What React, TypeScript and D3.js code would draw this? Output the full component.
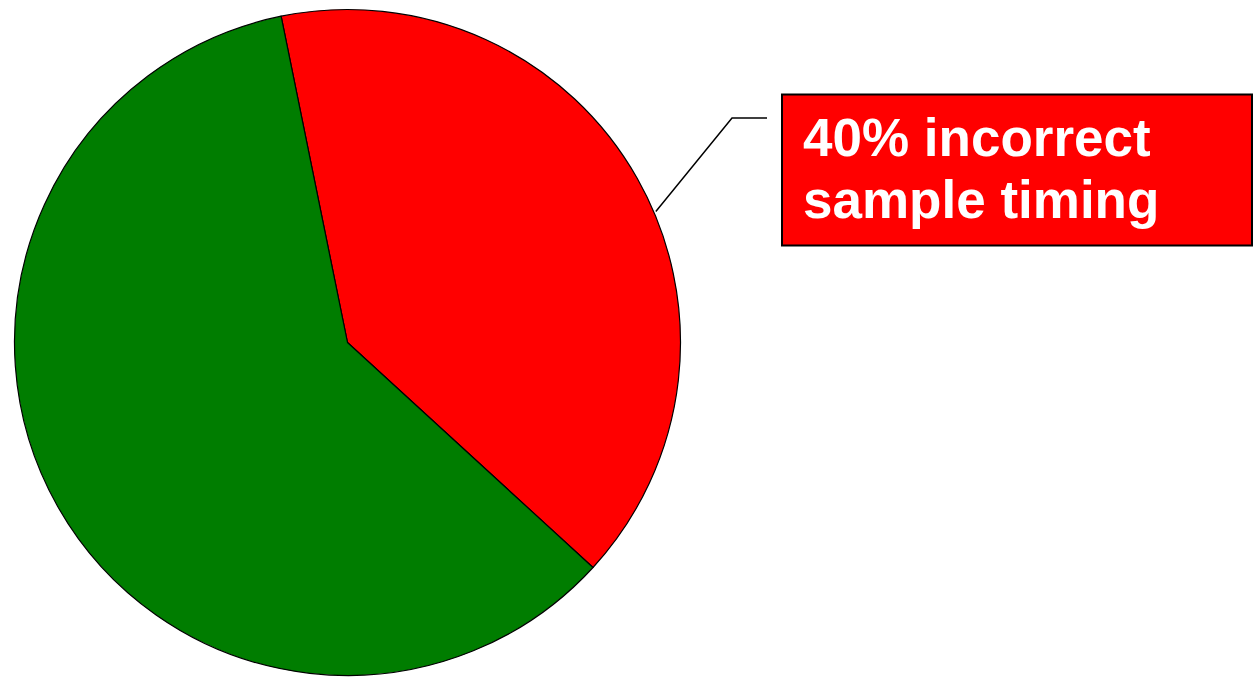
import React from "react";
import * as d3 from "d3";

// Share of samples by timing outcome
const categories = ["incorrect sample timing", "correct sample timing"];
const shares = [40, 60];
const sliceColors = ["#ff0000", "#007d00"];
const calloutLines = ["40% incorrect", "sample timing"];

const W = 1256;
const H = 678;

export default function App() {
  const cx = 347.5;
  const cy = 342.5;
  const r = 333;
  // Rotate the pie so the first slice begins just left of 12 o'clock
  const startDeg = -11.5;
  const start = (startDeg * Math.PI) / 180;

  const pie = d3
    .pie<number>()
    .sort(null)
    .startAngle(start)
    .endAngle(start + 2 * Math.PI);
  const arcs = pie(shares);
  const arc = d3.arc<d3.PieArcDatum<number>>().innerRadius(0).outerRadius(r);

  // Leader line from the red slice's rim toward the callout box
  const a0 = arcs[0];
  const leaderAngle = a0.startAngle + (a0.endAngle - a0.startAngle) * 0.545;
  const rimX = cx + (r + 2) * Math.sin(leaderAngle);
  const rimY = cy - (r + 2) * Math.cos(leaderAngle);
  const elbowX = 732;
  const elbowY = 118;
  const endX = 767;

  const box = { x: 782, y: 94.5, w: 470, h: 151 };

  return (
    <svg
      width={W}
      height={H}
      style={{ position: "absolute", left: 0, top: 0, background: "#fff" }}
    >
      <g transform={`translate(${cx},${cy})`}>
        {arcs.map((d, i) => (
          <path
            key={categories[i]}
            d={arc(d) || ""}
            fill={sliceColors[i]}
            stroke="#000"
            strokeWidth={1.2}
            strokeLinejoin="round"
          />
        ))}
      </g>
      <polyline
        points={`${rimX},${rimY} ${elbowX},${elbowY} ${endX},${elbowY}`}
        fill="none"
        stroke="#000"
        strokeWidth={1.5}
      />
      <rect
        x={box.x}
        y={box.y}
        width={box.w}
        height={box.h}
        fill={sliceColors[0]}
        stroke="#000"
        strokeWidth={2}
      />
      {calloutLines.map((t, i) => (
        <text
          key={t}
          x={803}
          y={156 + i * 62}
          fill="#fff"
          fontFamily="'Liberation Sans', Arial, sans-serif"
          fontWeight="bold"
          fontSize={53}
        >
          {t}
        </text>
      ))}
    </svg>
  );
}
